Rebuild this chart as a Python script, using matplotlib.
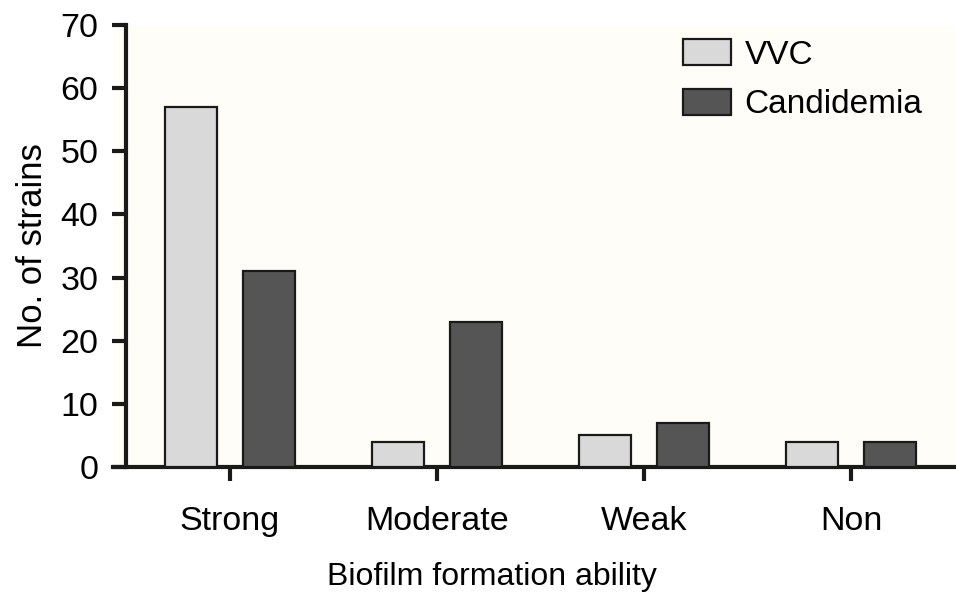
import numpy as np
import matplotlib
matplotlib.use('Agg')
import matplotlib.pyplot as plt

# Data
categories = ['Strong', 'Moderate', 'Weak', 'Non']
vvc = [57, 4, 5, 4]
candidemia = [31, 23, 7, 4]

plt.rcParams['font.family'] = ['Liberation Sans', 'DejaVu Sans']

fig = plt.figure(figsize=(9.56, 5.93), dpi=100)
ax = fig.add_axes([113 / 956, 1 - 467 / 593, 1 - 113 / 956, (467 - 25) / 593])
ax.set_facecolor('#fffdf8')

x = np.arange(len(categories))
width = 0.25
offset = 0.1875
ax.bar(x - offset, vvc, width, color='#d9d9d9', edgecolor='#1a1a1a', linewidth=1.6, label='VVC', zorder=3)
ax.bar(x + offset, candidemia, width, color='#555555', edgecolor='#1a1a1a', linewidth=1.6, label='Candidemia', zorder=3)

ax.set_xlim(-0.565, 3.507)
ax.set_ylim(0, 70)
ax.set_yticks(range(0, 71, 10))
ax.set_xticks(x)
ax.set_xticklabels(categories)

for side in ['top', 'right']:
    ax.spines[side].set_visible(False)
ax.spines['left'].set_position(('data', -0.502))
for side in ['left', 'bottom']:
    ax.spines[side].set_linewidth(3)
    ax.spines[side].set_color('#1a1a1a')

ax.tick_params(axis='both', length=10, width=3, color='#1a1a1a', labelsize=24.5)
ax.tick_params(axis='y', pad=10)
ax.tick_params(axis='x', pad=18)
for lbl in ax.get_xticklabels():
    lbl.set_bbox(dict(facecolor='white', edgecolor='none', pad=8))

ax.set_xlabel('Biofilm formation ability', fontsize=23)
ax.xaxis.set_label_coords(0.45, -0.214)
ax.set_ylabel('No. of strains', fontsize=25)
ax.yaxis.set_label_coords(-0.076, 0.5)

ax.legend(loc='upper right', frameon=False, fontsize=24, handlelength=1.45, handleheight=0.8,
          labelspacing=0.55, handletextpad=0.4, borderaxespad=0.1, bbox_to_anchor=(0.98, 1.005))

fig.savefig('out.png', dpi=100)
